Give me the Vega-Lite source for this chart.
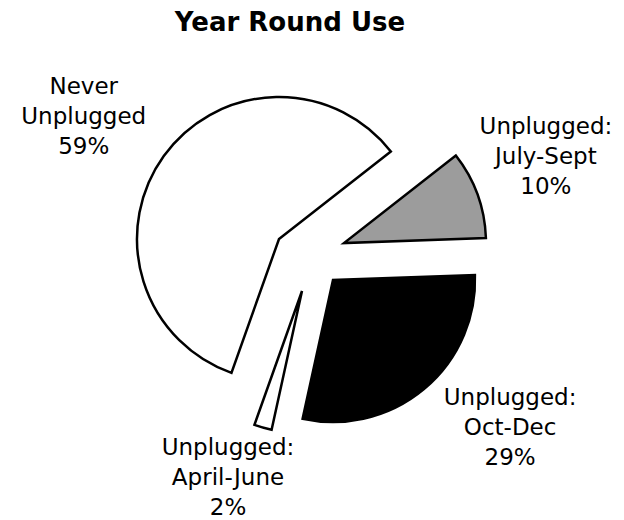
{
  "$schema": "https://vega.github.io/schema/vega-lite/v6.json",
  "width": 624,
  "height": 520,
  "autosize": {"type": "fit", "contains": "padding"},
  "padding": {"left": 0, "right": 0, "top": 10, "bottom": 0},
  "background": "white",
  "title": {"text": "Year Round Use", "font": "DejaVu Sans", "fontSize": 26, "fontWeight": "bold", "color": "black", "anchor": "middle", "dx": -22, "offset": 4},
  "data": {"values": [
    {"cat": "July-Sept", "ord": 1, "pct": 10, "label": "Unplugged:\nJuly-Sept\n10%"},
    {"cat": "Oct-Dec", "ord": 2, "pct": 29, "label": "Unplugged:\nOct-Dec\n29%"},
    {"cat": "April-June", "ord": 3, "pct": 2, "label": "Unplugged:\nApril-June\n2%"},
    {"cat": "Never", "ord": 4, "pct": 59, "label": "Never\nUnplugged\n59%"}
  ]},
  "encoding": {
    "theta": {"field": "pct", "type": "quantitative", "stack": true, "scale": {"domain": [0, 100], "range": [0.907, 7.190]}},
    "order": {"field": "ord", "type": "quantitative"}
  },
  "layer": [
    {
      "mark": {"type": "arc", "outerRadius": 142, "stroke": "black", "strokeWidth": 2.5, "strokeJoin": "miter",
        "xOffset": {"expr": "datum.cat === 'Never' ? -33 : datum.cat === 'July-Sept' ? 32 : datum.cat === 'Oct-Dec' ? 21 : -10"},
        "yOffset": {"expr": "datum.cat === 'Never' ? -41 : datum.cat === 'July-Sept' ? -37 : datum.cat === 'Oct-Dec' ? 0 : 11"}},
      "encoding": {
        "color": {"field": "cat", "type": "nominal", "legend": null,
          "scale": {"domain": ["July-Sept", "Oct-Dec", "April-June", "Never"], "range": ["#9c9c9c", "#000000", "#ffffff", "#ffffff"]}}
      }
    },
    {
      "mark": {"type": "text", "radius": 200, "font": "DejaVu Sans", "fontSize": 23, "lineHeight": 30, "lineBreak": "\n", "align": "center", "baseline": "middle", "color": "black",
        "xOffset": {"expr": "datum.cat === 'Never' ? -66 : datum.cat === 'July-Sept' ? 46 : datum.cat === 'Oct-Dec' ? 70 : -29"},
        "yOffset": {"expr": "datum.cat === 'Never' ? -76 : datum.cat === 'July-Sept' ? -84 : datum.cat === 'Oct-Dec' ? -36 : -24"}},
      "encoding": {"text": {"field": "label", "type": "nominal"}}
    }
  ],
  "config": {"view": {"stroke": null}}
}
